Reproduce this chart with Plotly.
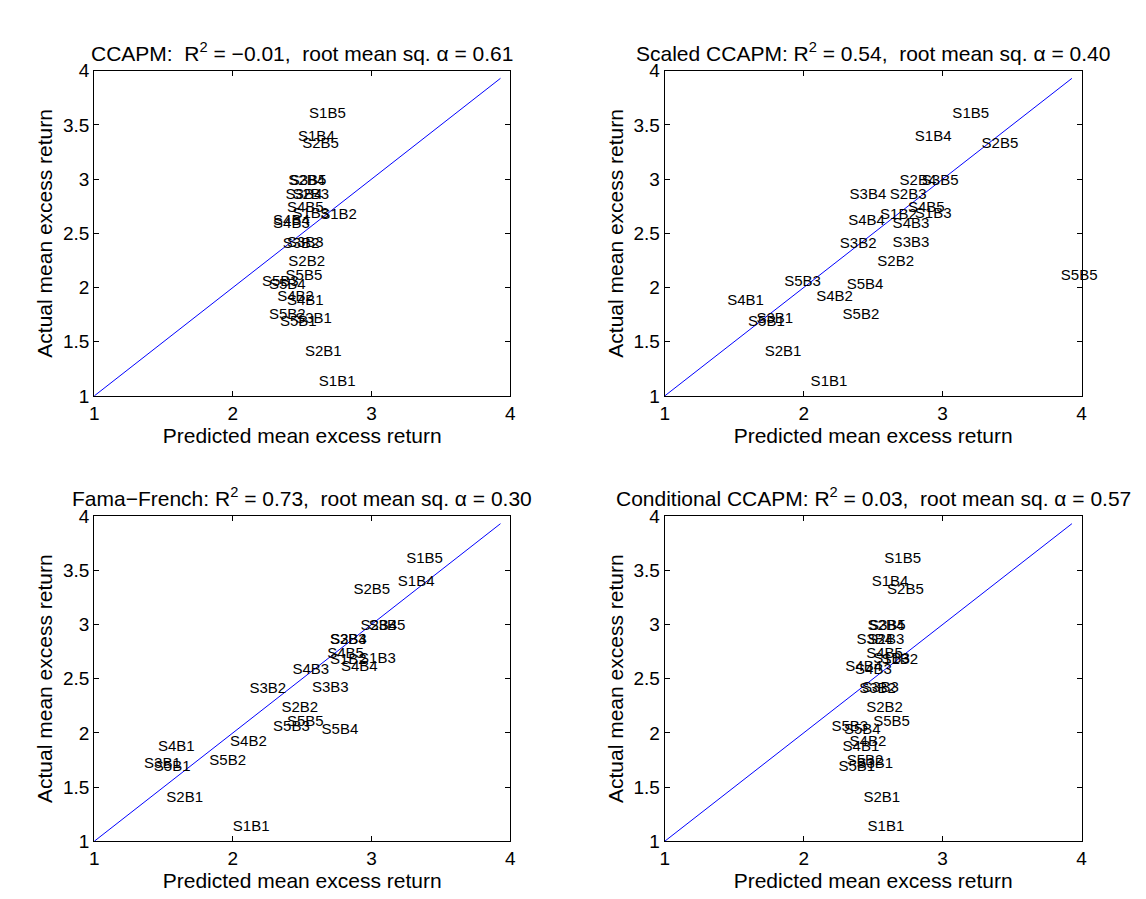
import plotly.graph_objects as go

portfolios = [f"S{s}B{b}" for s in range(1, 6) for b in range(1, 6)]

actual = [1.13, 2.67, 2.68, 3.39, 3.60,
          1.40, 2.23, 2.85, 2.98, 3.32,
          1.71, 2.40, 2.41, 2.85, 2.98,
          1.87, 1.91, 2.58, 2.61, 2.73,
          1.68, 1.74, 2.05, 2.02, 2.10]

pred_ccapm = [2.62, 2.63, 2.43, 2.47, 2.55,
              2.52, 2.40, 2.43, 2.40, 2.50,
              2.45, 2.36, 2.39, 2.38, 2.41,
              2.39, 2.32, 2.29, 2.29, 2.39,
              2.34, 2.26, 2.21, 2.26, 2.38]

pred_scaled = [2.05, 2.55, 2.80, 2.80, 3.07,
               1.72, 2.53, 2.62, 2.69, 3.28,
               1.66, 2.26, 2.64, 2.33, 2.85,
               1.45, 2.09, 2.64, 2.32, 2.75,
               1.60, 2.28, 1.86, 2.31, 3.85]

pred_ff = [2.00, 2.70, 2.91, 3.19, 3.25,
           1.52, 2.35, 2.70, 2.92, 2.87,
           1.36, 2.12, 2.57, 2.70, 2.98,
           1.46, 1.98, 2.43, 2.78, 2.68,
           1.43, 1.83, 2.29, 2.64, 2.39]

pred_cond = [2.46, 2.56, 2.50, 2.49, 2.58,
             2.43, 2.45, 2.46, 2.46, 2.60,
             2.38, 2.40, 2.42, 2.38, 2.47,
             2.28, 2.33, 2.37, 2.30, 2.45,
             2.25, 2.31, 2.20, 2.29, 2.50]

diag_line = [1.0, 3.93]

SP2 = "\u00a0 "
titles = [
    f"CCAPM:{SP2}R<sup>2</sup> = \u22120.01,{SP2}root mean sq. \u03b1 = 0.61",
    f"Scaled CCAPM: R<sup>2</sup> = 0.54,{SP2}root mean sq. \u03b1 = 0.40",
    f"Fama\u2212French: R<sup>2</sup> = 0.73,{SP2}root mean sq. \u03b1 = 0.30",
    f"Conditional CCAPM: R<sup>2</sup> = 0.03,{SP2}root mean sq. \u03b1 = 0.57",
]
preds = [pred_ccapm, pred_scaled, pred_ff, pred_cond]

tick_vals_x = [1, 2, 3, 4]
tick_vals_y = [1, 1.5, 2, 2.5, 3, 3.5, 4]
tick_text_y = ["1", "1.5", "2", "2.5", "3", "3.5", "4"]

W, H = 1146, 899
xdoms = [(82 / W, 502 / W), (658 / W, 1079 / W)]
ydoms = [(1 - 387 / H, 1 - 54 / H), (1 - 843 / H, 1 - 510 / H)]

FONT = "Liberation Sans, Arial, Helvetica, sans-serif"
fig = go.Figure()
layout = dict(width=W, height=H, margin=dict(l=0, r=0, t=0, b=0),
              paper_bgcolor="white", plot_bgcolor="white", showlegend=False,
              font=dict(family=FONT, color="black"))
annotations = []
for i in range(4):
    row, col = divmod(i, 2)
    n = i + 1
    xa = "x" if n == 1 else f"x{n}"
    ya = "y" if n == 1 else f"y{n}"
    fig.add_trace(go.Scatter(x=diag_line, y=diag_line, mode="lines",
                             line=dict(color="blue", width=1),
                             xaxis=xa, yaxis=ya, hoverinfo="skip"))
    fig.add_trace(go.Scatter(x=preds[i], y=actual, mode="text", text=portfolios,
                             textposition="middle right", cliponaxis=False,
                             textfont=dict(size=15, color="black", family=FONT),
                             xaxis=xa, yaxis=ya))
    axcommon = dict(showline=True, linecolor="black", linewidth=1, mirror="ticks",
                    ticks="inside", ticklen=5, tickcolor="black", showgrid=False,
                    zeroline=False, tickfont=dict(size=19, family=FONT, color="black"))
    layout[f"xaxis{'' if n == 1 else n}"] = dict(
        domain=list(xdoms[col]), range=[1, 4], tickvals=tick_vals_x,
        anchor=ya,
        title=dict(text="Predicted mean excess return", font=dict(size=21), standoff=2),
        **axcommon)
    layout[f"yaxis{'' if n == 1 else n}"] = dict(
        domain=list(ydoms[row]), range=[1, 4], tickvals=tick_vals_y,
        ticktext=tick_text_y, anchor=xa,
        title=dict(text="Actual mean excess return", font=dict(size=21), standoff=4),
        **axcommon)
    annotations.append(dict(text=titles[i], xref="paper", yref="paper",
                            x=(xdoms[col][0] + xdoms[col][1]) / 2,
                            y=ydoms[row][1] + 4 / H, xanchor="center", yanchor="bottom",
                            showarrow=False, font=dict(size=21, family=FONT)))
layout["annotations"] = annotations
fig.update_layout(**layout)
fig.write_html("out.html")
